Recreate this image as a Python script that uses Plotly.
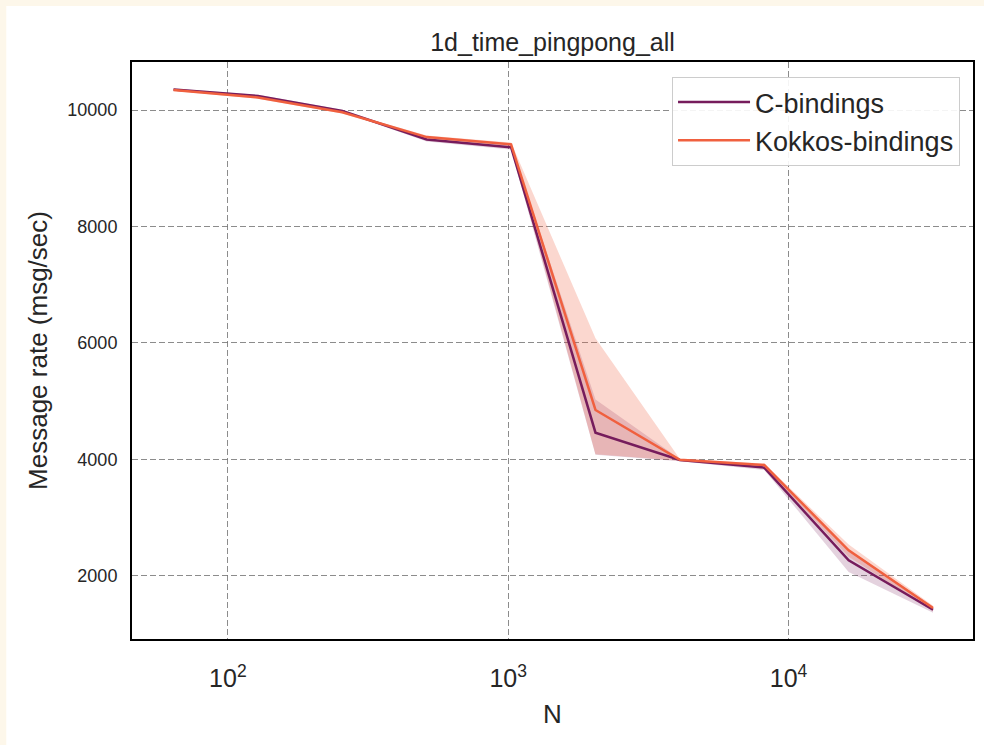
import plotly.graph_objects as go

N = [64, 128, 256, 512, 1024, 2048, 4096, 8192, 16384, 32768]

c_mean = [10350, 10240, 9985, 9495, 9360, 4460, 3990, 3860, 2270, 1420]
c_low = [10330, 10220, 9965, 9460, 9320, 4080, 3970, 3820, 2070, 1370]
c_high = [10370, 10260, 10005, 9530, 9400, 5030, 4010, 3900, 2450, 1470]

k_mean = [10345, 10215, 9960, 9535, 9410, 4850, 3995, 3905, 2440, 1450]
k_low = [10325, 10195, 9940, 9510, 9380, 4090, 3980, 3880, 2330, 1400]
k_high = [10365, 10235, 9980, 9560, 9440, 6080, 4010, 3930, 2540, 1490]

y_ticks = [2000, 4000, 6000, 8000, 10000]
y_labels = ["2000", "4000", "6000", "8000", "10000"]
x_ticks = [100, 1000, 10000]
x_labels = ["10<sup>2</sup>", "10<sup>3</sup>", "10<sup>4</sup>"]

C_COL = "#761c5c"
K_COL = "#f0603f"
FONT = "Liberation Sans, Arial, sans-serif"

fig = go.Figure()

def band(lo, hi, color):
    fig.add_trace(go.Scatter(x=N, y=hi, mode="lines", line=dict(width=0),
                             showlegend=False, hoverinfo="skip"))
    fig.add_trace(go.Scatter(x=N, y=lo, mode="lines", line=dict(width=0),
                             fill="tonexty", fillcolor=color,
                             showlegend=False, hoverinfo="skip"))

band(c_low, c_high, "rgba(118,28,92,0.2)")
band(k_low, k_high, "rgba(240,96,63,0.25)")

fig.add_trace(go.Scatter(x=N, y=c_mean, mode="lines", name="C-bindings",
                         line=dict(color=C_COL, width=2.5)))
fig.add_trace(go.Scatter(x=N, y=k_mean, mode="lines", name="Kokkos-bindings",
                         line=dict(color=K_COL, width=2.5)))

W, H = 984, 745
L, R, T, B = 132, 975, 62, 639
pw, ph = R - L, B - T

# white page area inside cream border
fig.add_shape(type="rect", xref="paper", yref="paper", layer="below",
              x0=(6 - L) / pw, x1=(W + 5 - L) / pw,
              y0=(B - (H + 5)) / ph, y1=(B - 6) / ph,
              fillcolor="white", line=dict(width=0))

GRID = dict(showgrid=True, gridcolor="rgba(120,120,120,0.85)", griddash="6px,3px",
            gridwidth=1.2, showline=True, mirror=True, linecolor="black",
            linewidth=2, ticks="", zeroline=False)

fig.update_layout(
    width=W, height=H,
    margin=dict(l=L, r=W - R, t=T, b=H - B),
    paper_bgcolor="#fdf7ea",
    plot_bgcolor="white",
    font=dict(family=FONT, color="#262626"),
    title=dict(text="1d_time_pingpong_all", x=0.5, xref="paper",
               y=1 - 42 / H, yref="container", yanchor="middle",
               font=dict(size=25, color="#262626")),
    legend=dict(x=(962 - L) / pw, y=(B - 77) / ph, xanchor="right", yanchor="top",
                traceorder="normal",
                bgcolor="rgba(255,255,255,0.9)", bordercolor="#cccccc", borderwidth=1,
                font=dict(size=27, color="#262626"), itemwidth=72,
                tracegroupgap=0),
    showlegend=True,
)

fig.update_xaxes(
    type="log", range=[1.658, 4.658],
    tickvals=x_ticks, ticktext=x_labels,
    tickfont=dict(size=25), ticklabelstandoff=16,
    title=dict(text="N", font=dict(size=26), standoff=14),
    **GRID,
)
fig.update_yaxes(
    range=[918, 10824],
    tickvals=y_ticks, ticktext=y_labels,
    tickfont=dict(size=18), ticklabelstandoff=9,
    title=dict(text="Message rate (msg/sec)", font=dict(size=26), standoff=12),
    **GRID,
)

fig.write_html("out.html")
